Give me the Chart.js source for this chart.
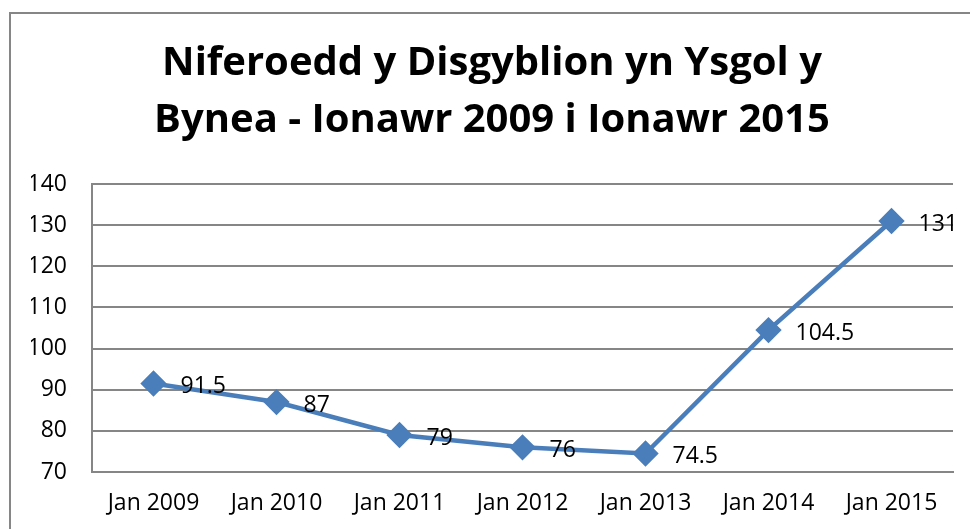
<!DOCTYPE html>
<html>
<head>
<meta charset="utf-8">
<script src="https://cdn.jsdelivr.net/npm/chart.js@4"></script>
<style>
  html, body { margin: 0; padding: 0; background: #fff; }
  #wrap { width: 970px; height: 529px; position: relative; }
</style>
</head>
<body>
<div id="wrap"><canvas id="pupilChart" width="970" height="529"></canvas></div>
<script>
// data
const categories = ["Jan 2009", "Jan 2010", "Jan 2011", "Jan 2012", "Jan 2013", "Jan 2014", "Jan 2015"];
const pupils = [91.5, 87, 79, 76, 74.5, 104.5, 131];
const yTicks = [70, 80, 90, 100, 110, 120, 130, 140];
const titleLines = ["Niferoedd y Disgyblion yn Ysgol y", "Bynea - Ionawr 2009 i Ionawr 2015"];

const FONT = "'Open Sans', Lato, 'Liberation Sans', sans-serif";
const GRID = "#868686";
const BLUE = "#4a7ebb";

// outer frame like the Excel chart area (top + left edge only visible)
const framePlugin = {
  id: "frame",
  beforeDraw(chart) {
    const ctx = chart.ctx;
    ctx.save();
    ctx.strokeStyle = GRID;
    ctx.lineWidth = 2;
    ctx.beginPath();
    ctx.moveTo(10, 529);
    ctx.lineTo(10, 13);
    ctx.lineTo(970, 13);
    ctx.stroke();
    ctx.restore();
  }
};

// value labels to the right of each point
const valueLabels = {
  id: "valueLabels",
  afterDatasetsDraw(chart) {
    const ctx = chart.ctx;
    const meta = chart.getDatasetMeta(0);
    ctx.save();
    ctx.font = "23px " + FONT;
    ctx.fillStyle = "#000";
    ctx.textAlign = "left";
    ctx.textBaseline = "middle";
    meta.data.forEach((pt, i) => {
      ctx.fillText(String(pupils[i]), pt.x + 27, pt.y + 3);
    });
    ctx.restore();
  }
};

new Chart(document.getElementById("pupilChart"), {
  type: "line",
  data: {
    labels: categories,
    datasets: [{
      data: pupils,
      borderColor: BLUE,
      backgroundColor: BLUE,
      borderWidth: 4.5,
      pointStyle: "rectRot",
      pointRadius: 10,
      pointHoverRadius: 10,
      pointBackgroundColor: BLUE,
      pointBorderColor: BLUE,
      tension: 0
    }]
  },
  options: {
    responsive: false,
    animation: false,
    layout: { padding: { left: 31, right: 17, top: 0, bottom: 0 } },
    plugins: {
      legend: { display: false },
      tooltip: { enabled: false },
      title: {
        display: true,
        text: titleLines,
        color: "#000",
        font: { family: FONT, size: 40, weight: "bold", lineHeight: 57 / 40 },
        padding: { top: 35, bottom: 35 }
      }
    },
    scales: {
      x: {
        offset: true,
        grid: { display: false, drawTicks: false },
        border: { display: true, color: GRID, width: 2 },
        ticks: { color: "#000", font: { family: FONT, size: 23 }, padding: 18, maxRotation: 0 },
        afterFit(scale) { scale.height = 57; }
      },
      y: {
        min: 70,
        max: 140,
        afterBuildTicks(scale) { scale.ticks = yTicks.map(v => ({ value: v })); },
        grid: { color: GRID, lineWidth: 2, drawTicks: false },
        border: { display: true, color: GRID, width: 2 },
        ticks: { color: "#000", font: { family: FONT, size: 23 }, padding: 25 },
        afterFit(scale) { scale.width = 61; }
      }
    }
  },
  plugins: [framePlugin, valueLabels]
});
</script>
</body>
</html>
